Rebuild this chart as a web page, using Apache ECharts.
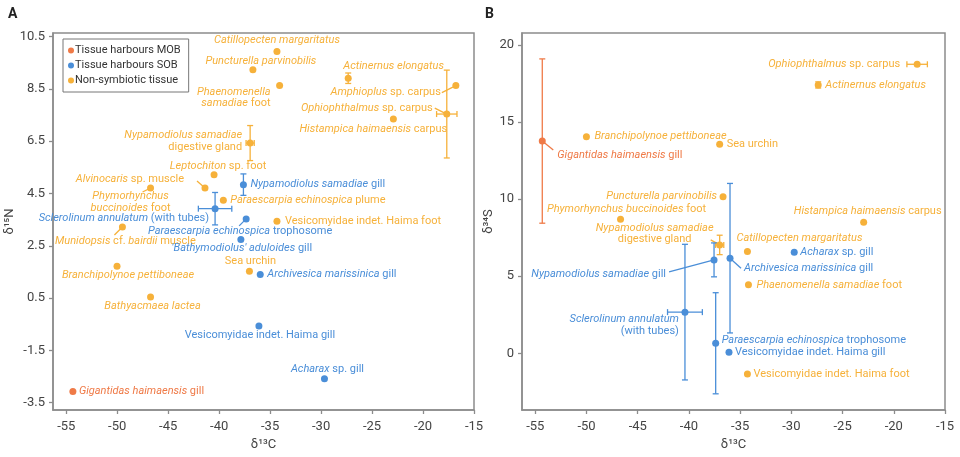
<!DOCTYPE html>
<html>
<head>
<meta charset="utf-8">
<script src="https://cdn.jsdelivr.net/npm/echarts@6/dist/echarts.min.js"></script>
<style>html,body{margin:0;padding:0;background:#fff}#c{width:960px;height:457px}</style>
</head>
<body>
<div id="c"></div>
<script>
// ---------- tick labels ----------
const xTicks = [-55, -50, -45, -40, -35, -30, -25, -20, -15];
const yTicksA = [-3.5, -1.5, 0.5, 2.5, 4.5, 6.5, 8.5, 10.5];
const yTicksB = [0, 5, 10, 15, 20];

// ---------- categories ----------
const groupNames = { MOB: 'Tissue harbours MOB', SOB: 'Tissue harbours SOB', NS: 'Non-symbiotic tissue' };
const groupOrder = ['MOB', 'SOB', 'NS'];

// ---------- Panel A: d13C vs d15N ----------
const namesA = [
  "_Catillopecten margaritatus_",
  "_Puncturella parvinobilis_",
  "_Phaenomenella_\n_samadiae_ foot",
  "_Actinernus elongatus_",
  "_Amphioplus_ sp. carpus",
  "_Ophiophthalmus_ sp. carpus",
  "_Histampica haimaensis_ carpus",
  "_Nypamodiolus samadiae_\ndigestive gland",
  "_Leptochiton_ sp. foot",
  "_Alvinocaris_ sp. muscle",
  "_Phymorhynchus_\n_buccinoides_ foot",
  "_Nypamodiolus samadiae_ gill",
  "_Paraescarpia echinospica_ plume",
  "_Sclerolinum annulatum_ (with tubes)",
  "_Paraescarpia echinospica_ trophosome",
  "Vesicomyidae indet. Haima foot",
  "_Munidopsis_ cf. _bairdii_ muscle",
  "_'Bathymodiolus' aduloides_ gill",
  "_Branchipolynoe pettiboneae_",
  "Sea urchin",
  "_Archivesica marissinica_ gill",
  "_Bathyacmaea lactea_",
  "Vesicomyidae indet. Haima gill",
  "_Acharax_ sp. gill",
  "_Gigantidas haimaensis_ gill"
];
const groupA = ['NS','NS','NS','NS','NS','NS','NS','NS','NS','NS','NS','SOB','NS','SOB','SOB','NS','NS','SOB','NS','NS','SOB','NS','SOB','SOB','MOB'];
const c13A = [-34.33,-36.69,-34.07,-27.34,-16.78,-17.67,-22.91,-36.96,-40.5,-41.39,-46.73,-37.62,-39.59,-40.4,-37.35,-34.33,-49.49,-37.87,-50.02,-37.03,-35.97,-46.73,-36.1,-29.67,-54.35];
const n15A = [9.93,9.23,8.63,8.91,8.63,7.54,7.35,6.43,5.22,4.71,4.71,4.84,4.24,3.92,3.53,3.44,3.22,2.74,1.72,1.53,1.40,0.54,-0.57,-2.58,-3.07];
const c13ErrA = [0,0,0,0,0,1.0,0,0.4,0,0,0,0,0,1.64,0,0,0,0,0,0,0,0,0,0,0];
const n15ErrA = [0,0,0,0.2,0,1.68,0,0.67,0,0,0,0.41,0,0.62,0,0,0,0,0,0,0,0,0,0,0];

// ---------- Panel B: d13C vs d34S ----------
const namesB = [
  "_Ophiophthalmus_ sp. carpus",
  "_Actinernus elongatus_",
  "_Gigantidas haimaensis_ gill",
  "_Branchipolynoe pettiboneae_",
  "Sea urchin",
  "_Puncturella parvinobilis_",
  "_Phymorhynchus buccinoides_ foot",
  "_Histampica haimaensis_ carpus",
  "_Nypamodiolus samadiae_\ndigestive gland",
  "_Catillopecten margaritatus_",
  "_Acharax_ sp. gill",
  "_Nypamodiolus samadiae_ gill",
  "_Archivesica marissinica_ gill",
  "_Phaenomenella samadiae_ foot",
  "_Sclerolinum annulatum_\n(with tubes)",
  "_Paraescarpia echinospica_ trophosome",
  "Vesicomyidae indet. Haima gill",
  "Vesicomyidae indet. Haima foot"
];
const groupB = ['NS','NS','MOB','NS','NS','NS','NS','NS','NS','NS','SOB','SOB','SOB','NS','SOB','SOB','SOB','NS'];
const c13B = [-17.72,-27.38,-54.32,-50.01,-37.0,-36.67,-46.68,-22.94,-37.0,-34.29,-29.72,-37.55,-35.99,-34.19,-40.39,-37.39,-36.09,-34.29];
const s34B = [18.75,17.41,13.77,14.05,13.56,10.16,8.70,8.50,7.03,6.60,6.56,6.06,6.17,4.44,2.67,0.65,0.07,-1.34];
const c13ErrB = [1.0,0,0,0,0,0,0,0,0.4,0,0,0,0,0,1.7,0,0,0];
const s34ErrB = [0,0.2,5.33,0,0,0,0,0,0.63,0,0,1.1,4.85,0,4.4,3.28,0,0];

// ---------- styles (kept separate from data) ----------
const colors = { MOB: '#EF7A47', SOB: '#4A8ED8', NS: '#F6B13A' };
const FONT = 'Roboto';
// label placement: [dx, dy, align, leaderStartDx, leaderStartDy] in px relative to point
const labelPosA = [
  [0,-11,'center'], [8,-9,'center'], [-9,12,'right'], [-5,-12,'left'],
  [-15,7,'right',-14,7], [-14,-6,'right',-12,-6], [-20,10,'center'], [-8,-2,'right'],
  [4,-8,'center'], [-21,-9,'right',-8,-7], [-20,14,'center',-8,4], [7,0,'left'],
  [7,0,'left'], [-6,10,'right'], [-6,12,'center',-7,7], [8,0,'left'],
  [3,14,'center',-8,8], [1,9,'center'], [11,9,'center'], [1,-10,'center'],
  [7,0,'left'], [2,9,'center'], [1,9,'center'], [3,-9,'center'], [6,0,'left']
];
const labelPosB = [
  [-17,0,'right'], [7,0,'left'], [15,14,'left',11,9], [8,0,'left'],
  [7,0,'left'], [-6,0,'right'], [6,-10,'center'], [4,-11,'center'],
  [-65,-11,'center',-9,-5], [52,-13,'center'], [6,0,'left'], [-48,14,'right',-45,12],
  [14,10,'left',11,10], [8,0,'left'], [-6,13,'right'], [6,-3,'left'],
  [6,0,'left'], [6,0,'left']
];

function toRich(s) {
  return s.split('\n').map(line => {
    const parts = line.split('_');
    return parts.map((p, k) => p === '' ? '' : (k % 2 ? '{i|' + p + '}' : '{n|' + p + '}')).join('');
  }).join('\n');
}

function makeScatter(gridIdx, names, groups, xs, ys) {
  return groupOrder.map(g => ({
    type: 'scatter', name: groupNames[g], xAxisIndex: gridIdx, yAxisIndex: gridIdx,
    symbolSize: 7, z: 5, itemStyle: { color: colors[g], opacity: 1 },
    emphasis: { disabled: true },
    data: xs.map((x, i) => groups[i] === g ? [x, ys[i]] : null).filter(d => d)
  }));
}

function makeCustom(gridIdx, names, groups, xs, ys, xe, ye, pos) {
  return {
    type: 'custom', xAxisIndex: gridIdx, yAxisIndex: gridIdx, z: 3, silent: true,
    data: xs.map((x, i) => [x, ys[i], xe[i], ye[i], i]),
    encode: { x: 0, y: 1 },
    renderItem: function (params, api) {
      const x = api.value(0), y = api.value(1), ex = api.value(2), ey = api.value(3), i = api.value(4);
      const col = colors[groups[i]];
      const p = api.coord([x, y]);
      const ch = [];
      const ls = { stroke: col, lineWidth: 1.3 };
      const cap = 3;
      if (ex > 0) {
        const a = api.coord([x - ex, y]), b = api.coord([x + ex, y]);
        ch.push({ type: 'line', shape: { x1: a[0], y1: a[1], x2: b[0], y2: b[1] }, style: ls });
        ch.push({ type: 'line', shape: { x1: a[0], y1: a[1] - cap, x2: a[0], y2: a[1] + cap }, style: ls });
        ch.push({ type: 'line', shape: { x1: b[0], y1: b[1] - cap, x2: b[0], y2: b[1] + cap }, style: ls });
      }
      if (ey > 0) {
        const a = api.coord([x, y - ey]), b = api.coord([x, y + ey]);
        ch.push({ type: 'line', shape: { x1: a[0], y1: a[1], x2: b[0], y2: b[1] }, style: ls });
        ch.push({ type: 'line', shape: { x1: a[0] - cap, y1: a[1], x2: a[0] + cap, y2: a[1] }, style: ls });
        ch.push({ type: 'line', shape: { x1: b[0] - cap, y1: b[1], x2: b[0] + cap, y2: b[1] }, style: ls });
      }
      const lp = pos[i];
      if (lp.length > 3) {
        ch.push({ type: 'line', shape: { x1: p[0] + lp[3], y1: p[1] + lp[4], x2: p[0], y2: p[1] }, style: { stroke: col, lineWidth: 1.3 } });
      }
      ch.push({
        type: 'text', x: p[0] + lp[0], y: p[1] + lp[1],
        style: {
          text: toRich(names[i]), align: lp[2], verticalAlign: 'middle',
          fill: col, font: '11px ' + FONT, lineHeight: 11.5,
          rich: {
            i: { fill: col, fontStyle: 'italic', fontSize: 11, fontFamily: FONT, lineHeight: 11.5, align: lp[2] },
            n: { fill: col, fontSize: 11, fontFamily: FONT, lineHeight: 11.5, align: lp[2] }
          }
        }
      });
      return { type: 'group', children: ch };
    }
  };
}

const axisCommon = {
  type: 'value',
  axisLine: { show: true, onZero: false, lineStyle: { color: '#8c8c8c', width: 1.5 } },
  splitLine: { show: false },
  nameTextStyle: { fontSize: 13, color: '#444', fontFamily: FONT },
};

const option = {
  animation: false,
  backgroundColor: '#fff',
  textStyle: { fontFamily: FONT },
  title: [
    { text: 'A', left: 8, top: 7, padding: 0, textStyle: { fontSize: 14, fontWeight: 'bold', color: '#222', fontFamily: FONT } },
    { text: 'B', left: 485, top: 7, padding: 0, textStyle: { fontSize: 14, fontWeight: 'bold', color: '#222', fontFamily: FONT } }
  ],
  legend: {
    data: groupOrder.map(g => groupNames[g]),
    orient: 'vertical', left: 63, top: 39, padding: [5, 8, 5, 5],
    borderColor: '#777', borderWidth: 1, backgroundColor: '#fff',
    icon: 'circle', itemWidth: 6, itemHeight: 6, itemGap: 2,
    textStyle: { fontSize: 11, color: '#333', fontFamily: FONT, lineHeight: 13, padding: [0, 0, 0, -4] }
  },
  grid: [
    { left: 53, top: 33, right: 486, bottom: 47, show: true, borderColor: '#8c8c8c', borderWidth: 1.5 },
    { left: 522, top: 33, right: 15, bottom: 47, show: true, borderColor: '#8c8c8c', borderWidth: 1.5 }
  ],
  xAxis: [0, 1].map(g => Object.assign({}, axisCommon, {
    gridIndex: g, min: -56.3, max: -15,
    name: 'δ\u00b9\u00b3C', nameLocation: 'middle', nameGap: 27,
    axisTick: { show: true, length: 4, customValues: xTicks, lineStyle: { color: '#8c8c8c', width: 1.3 } },
    axisLabel: { customValues: xTicks, fontSize: 13, color: '#444', margin: 10, fontFamily: FONT }
  })),
  yAxis: [
    Object.assign({}, axisCommon, {
      gridIndex: 0, min: -3.78, max: 10.64,
      name: 'δ\u00b9\u2075N', nameLocation: 'middle', nameGap: 31,
      axisTick: { show: true, length: 4, customValues: yTicksA, lineStyle: { color: '#8c8c8c', width: 1.3 } },
      axisLabel: { customValues: yTicksA, fontSize: 13, color: '#444', margin: 8, fontFamily: FONT }
    }),
    Object.assign({}, axisCommon, {
      gridIndex: 1, min: -3.68, max: 20.78,
      name: 'δ\u00b3\u2074S', nameLocation: 'middle', nameGap: 19,
      axisTick: { show: true, length: 4, customValues: yTicksB, lineStyle: { color: '#8c8c8c', width: 1.3 } },
      axisLabel: { customValues: yTicksB, fontSize: 13, color: '#444', margin: 8, fontFamily: FONT }
    })
  ],
  series: [].concat(
    [makeCustom(0, namesA, groupA, c13A, n15A, c13ErrA, n15ErrA, labelPosA)],
    makeScatter(0, namesA, groupA, c13A, n15A),
    [makeCustom(1, namesB, groupB, c13B, s34B, c13ErrB, s34ErrB, labelPosB)],
    makeScatter(1, namesB, groupB, c13B, s34B)
  )
};

const chart = echarts.init(document.getElementById('c'), null, { renderer: 'canvas' });
chart.setOption(option);
</script>
</body>
</html>
